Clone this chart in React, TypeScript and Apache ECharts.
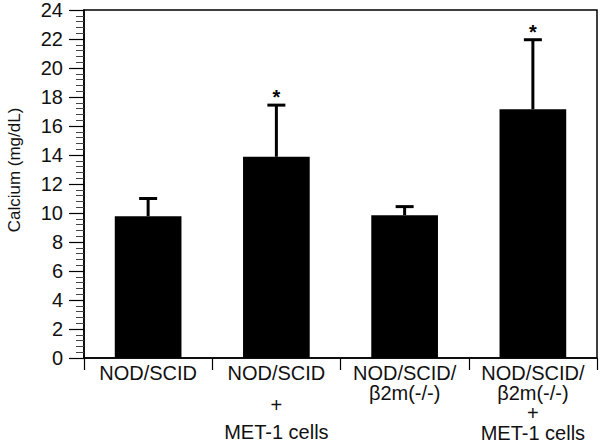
import React, { useEffect, useRef } from "react";
import * as echarts from "echarts";

const categories = ["NOD/SCID", "NOD/SCID+MET", "NOD/SCID/β2m", "NOD/SCID/β2m+MET"];
const means = [9.78, 13.88, 9.85, 17.16];
const errorTops = [11.0, 17.44, 10.44, 21.95];
const significant = [false, true, false, true];
const yTicks = { min: 0, max: 24, interval: 2 };

const labelText: Record<string, string> = {
  "NOD/SCID": "{a|NOD/SCID}",
  "NOD/SCID+MET": "{a|NOD/SCID}\n{s|}\n{a|+}\n{m|MET-1 cells}",
  "NOD/SCID/β2m": "{a|NOD/SCID/}\n{a|β2m(-/-)}",
  "NOD/SCID/β2m+MET": "{a|NOD/SCID/}\n{a|β2m(-/-)}\n{a|+}\n{a|MET-1 cells}",
};

const FONT = "'Liberation Sans', Arial, Helvetica, sans-serif";

export default function App() {
  const ref = useRef<HTMLDivElement>(null);
  useEffect(() => {
    if (!ref.current) return;
    const chart = echarts.init(ref.current, null, { renderer: "svg" });
    const errData = categories.map((_, i) => [i, means[i], errorTops[i], significant[i] ? 1 : 0]);
    chart.setOption({
      animation: false,
      backgroundColor: "#fff",
      grid: {
        left: 84,
        right: 3,
        top: 7,
        bottom: 87,
        show: true,
        borderColor: "#000",
        borderWidth: 1.5,
        backgroundColor: "transparent",
      },
      graphic: [
        {
          type: "text",
          x: 14,
          y: 170,
          rotation: Math.PI / 2,
          style: {
            text: "Calcium (mg/dL)",
            font: `17px ${FONT}`,
            fill: "#111",
            align: "center",
            verticalAlign: "middle",
          },
        },
      ],
      xAxis: {
        type: "category",
        data: categories,
        boundaryGap: true,
        axisLine: { show: true, lineStyle: { color: "#000", width: 1.5 } },
        axisTick: { show: true, length: 12, inside: false, lineStyle: { color: "#000", width: 1.2 } },
        axisLabel: {
          interval: 0,
          margin: 5,
          color: "#111",
          fontFamily: FONT,
          fontSize: 20,
          formatter: (v: string) => labelText[v],
          rich: {
            a: { fontFamily: FONT, fontSize: 20, lineHeight: 20, color: "#111" },
            s: { fontFamily: FONT, fontSize: 20, lineHeight: 12 },
            m: { fontFamily: FONT, fontSize: 20, lineHeight: 34, color: "#111" },
          },
        },
        splitLine: { show: false },
      },
      yAxis: {
        type: "value",
        min: yTicks.min,
        max: yTicks.max,
        interval: yTicks.interval,
        axisLine: { show: true, lineStyle: { color: "#000", width: 1.5 } },
        axisTick: { show: true, length: 15, inside: false, lineStyle: { color: "#000", width: 1.2 } },
        minorTick: { show: true, splitNumber: 5, length: 8, lineStyle: { color: "#444", width: 1 } },
        axisLabel: { margin: 21, color: "#111", fontFamily: FONT, fontSize: 20 },
        splitLine: { show: false },
      },
      series: [
        {
          type: "bar",
          data: means,
          barWidth: "52%",
          itemStyle: { color: "#000" },
          z: 2,
        },
        {
          type: "custom",
          data: errData,
          z: 3,
          renderItem: (params: any, api: any) => {
            const i = api.value(0);
            const lo = api.coord([i, api.value(1)]);
            const hi = api.coord([i, api.value(2)]);
            const sig = api.value(3);
            const children: any[] = [
              {
                type: "line",
                shape: { x1: lo[0], y1: lo[1], x2: hi[0], y2: hi[1] },
                style: { stroke: "#000", lineWidth: 3 },
              },
              {
                type: "line",
                shape: { x1: hi[0] - 9, y1: hi[1], x2: hi[0] + 9, y2: hi[1] },
                style: { stroke: "#000", lineWidth: 3 },
              },
            ];
            if (sig) {
              children.push({
                type: "text",
                x: hi[0],
                y: hi[1] - 8,
                style: {
                  text: "*",
                  font: `bold 20px ${FONT}`,
                  fill: "#000",
                  align: "center",
                  verticalAlign: "middle",
                },
              });
            }
            return { type: "group", children };
          },
        },
      ],
    });
    return () => chart.dispose();
  }, []);
  return <div ref={ref} style={{ width: 600, height: 445, position: "fixed", left: 0, top: 0 }} />;
}
